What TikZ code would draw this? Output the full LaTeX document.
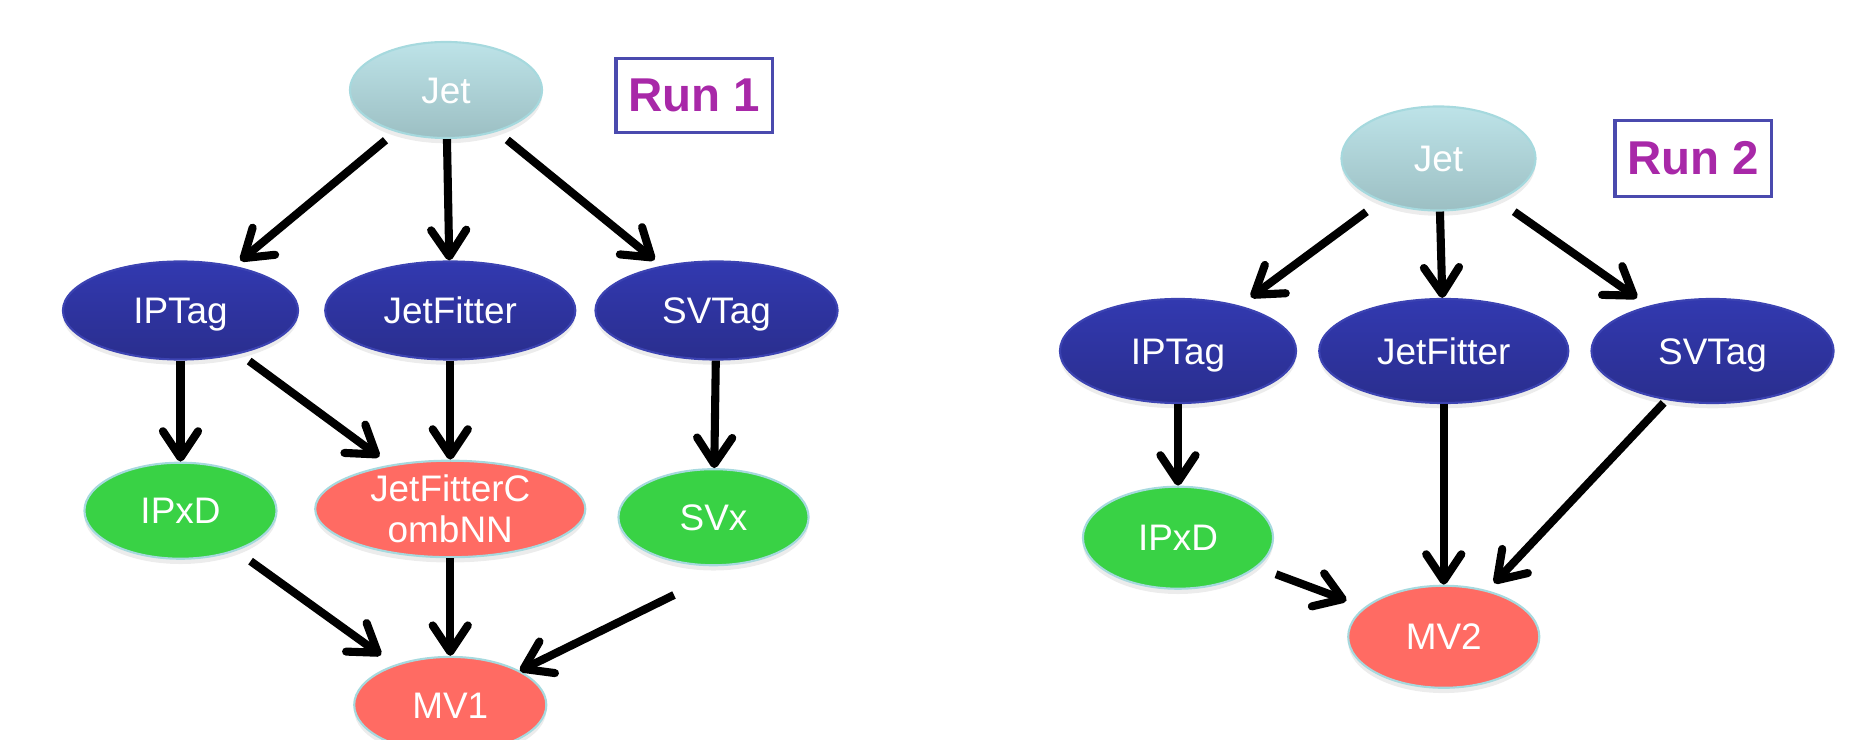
\documentclass[tikz,border=0pt]{standalone}
\usepackage{fontspec}
\setmainfont{Liberation Sans}
\usepackage{xcolor}
\usetikzlibrary{arrows.meta,positioning,shapes.geometric,shadows}

\definecolor{jettop}{HTML}{BDE3E8}
\definecolor{jetbot}{HTML}{9CBFC3}
\definecolor{bluetop}{HTML}{3239B0}
\definecolor{bluebot}{HTML}{2A2E8E}
\definecolor{blueedge}{HTML}{3C43B2}
\definecolor{edgecyan}{HTML}{A6D9DE}
\definecolor{lowgreen}{HTML}{39D245}
\definecolor{combred}{HTML}{FF6B63}
\definecolor{runblue}{HTML}{4A4AAE}
\definecolor{runpurple}{HTML}{A828A8}

\begin{document}
\begin{tikzpicture}[
  x=0.01cm, y=-0.01cm,
  bubble/.style={ellipse, draw=edgecyan, line width=0.6pt, inner sep=0pt,
    minimum width=1.92cm, minimum height=0.96cm, text=white,
    font=\fontsize{10.5}{11.7}\selectfont, text height=7.5pt, text depth=0pt,
    drop shadow={opacity=0.15, shadow xshift=0pt, shadow yshift=-1.5pt}},
  jet/.style={bubble, top color=jettop, bottom color=jetbot},
  tagger/.style={bubble, draw=blueedge, top color=bluetop, bottom color=bluebot},
  lowlevel/.style={bubble, fill=lowgreen},
  combined/.style={bubble, fill=combred},
  tall/.style={minimum height=1.04cm},
  runbox/.style={draw=runblue, line width=1pt, text=runpurple,
    font=\fontsize{13.5}{16}\selectfont\bfseries,
    minimum width=1.565cm, minimum height=0.735cm},
  arrow/.style={-{Straight Barb[length=7.5pt, width=10pt, round]}, line width=2.3pt}
]
\useasboundingbox (0,0) rectangle (1866,740);

\node[jet] (jetA) at (446,90) {Jet};
\node[runbox, right=0.71cm of jetA, yshift=-0.055cm] (runA) {Run 1};
\node[tagger, minimum width=2.35cm, minimum height=0.98cm] (iptagA) at (180.5,310.5) {IPTag};
\node[tagger, minimum width=2.50cm, minimum height=0.98cm, right=0.25cm of iptagA] (jfA) {JetFitter};
\node[tagger, minimum width=2.42cm, minimum height=0.98cm, right=0.18cm of jfA] (svtagA) {SVTag};
\node[lowlevel, below=1.01cm of iptagA] (ipxdA) {IPxD};
\node[combined, minimum width=2.70cm, align=center, text height={}, text depth={},
  below=0.99cm of jfA] (cnnA) {JetFitterC\\ombNN};
\node[lowlevel, minimum width=1.90cm, below=1.075cm of svtagA, xshift=-0.03cm] (svxA) {SVx};
\node[combined, below=0.975cm of cnnA] (mv1A) {MV1};
\coordinate (svxout) at (674,595);

\draw[arrow, shorten <=3.7pt, shorten >=2.3pt] (jetA) -- (iptagA);
\draw[arrow] (jetA) -- (jfA);
\draw[arrow, shorten <=3.7pt, shorten >=2.6pt] (jetA) -- (svtagA);
\draw[arrow] (iptagA) -- (ipxdA);
\draw[arrow, shorten <=3.4pt, shorten >=3.8pt] (iptagA) -- (cnnA);
\draw[arrow] (jfA) -- (cnnA);
\draw[arrow] (svtagA) -- (svxA);
\draw[arrow, shorten <=5pt, shorten >=4.7pt] (ipxdA) -- (mv1A);
\draw[arrow] (cnnA) -- (mv1A);
\draw[arrow] (svxout) -- (mv1A);

\node[jet, tall, minimum width=1.94cm] (jetB) at (1438.5,158.5) {Jet};
\node[runbox, right=0.765cm of jetB, minimum height=0.755cm] (runB) {Run 2};
\node[tagger, tall, minimum width=2.36cm] (iptagB) at (1178,351) {IPTag};
\node[tagger, tall, minimum width=2.49cm, right=0.21cm of iptagB] (jfB) {JetFitter};
\node[tagger, tall, minimum width=2.42cm, right=0.21cm of jfB] (svtagB) {SVTag};
\node[lowlevel, minimum width=1.90cm, minimum height=1.02cm, below=0.815cm of iptagB] (ipxdB) {IPxD};
\node[combined, minimum width=1.91cm, minimum height=1.02cm, below=1.805cm of jfB] (mv2B) {MV2};

\draw[arrow, shorten <=5pt, shorten >=4pt] (jetB) -- (iptagB);
\draw[arrow] (jetB) -- (jfB);
\draw[arrow, shorten <=5.5pt, shorten >=3.9pt] (jetB) -- (svtagB);
\draw[arrow] (iptagB) -- (ipxdB);
\draw[arrow, shorten <=5.7pt, shorten >=5.4pt] (ipxdB) -- (mv2B);
\draw[arrow] (jfB) -- (mv2B);
\draw[arrow, shorten <=1.1pt, shorten >=2.8pt] (svtagB) -- (mv2B);
\end{tikzpicture}
\end{document}
